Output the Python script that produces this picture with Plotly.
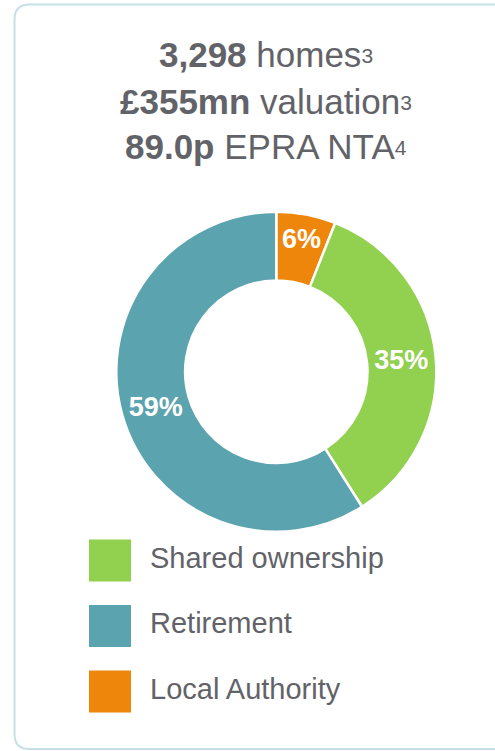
import plotly.graph_objects as go

W, H = 495, 751

# ---- data ----
categories = ["Local Authority", "Shared ownership", "Retirement"]
shares = [6, 35, 59]
slice_colors = ["#EE860B", "#92D050", "#5BA3AE"]

legend_labels = ["Shared ownership", "Retirement", "Local Authority"]
legend_colors = ["#92D050", "#5BA3AE", "#EE860B"]
legend_rows = [0, -1, -2]

headline_values = ["3,298", "£355mn", "89.0p"]
headline_labels = ["homes", "valuation", "EPRA NTA"]
headline_notes = ["3", "3", "4"]


def px_x(x):
    return x / W


def px_y(y):
    return (H - y) / H


fig = go.Figure()

fig.add_trace(go.Pie(
    labels=categories,
    values=shares,
    sort=False,
    direction="clockwise",
    rotation=0,
    hole=0.57,
    marker=dict(colors=slice_colors, line=dict(color="white", width=2.5)),
    textinfo="percent",
    texttemplate="%{percent:.0%}",
    textposition="inside",
    insidetextorientation="horizontal",
    textfont=dict(family="Liberation Sans, Arial, sans-serif", size=27, color="white", weight="bold"),
    domain=dict(x=[px_x(116.3), px_x(436.3)], y=[px_y(531.7), px_y(211.7)]),
    showlegend=False,
    hoverinfo="label+percent",
))

# legend built as scatter on hidden axes
fig.add_trace(go.Scatter(
    x=[0] * len(legend_labels), y=legend_rows,
    mode="markers",
    marker=dict(symbol="square", size=42, color=legend_colors, line=dict(width=0)),
    showlegend=False, hoverinfo="skip",
    xaxis="x", yaxis="y",
))
fig.add_trace(go.Scatter(
    x=[1] * len(legend_labels), y=legend_rows,
    mode="text",
    text=legend_labels,
    textposition="middle right",
    textfont=dict(family="Liberation Sans, Arial, sans-serif", size=29, color="#626368"),
    showlegend=False, hoverinfo="skip",
    xaxis="x", yaxis="y",
))

# headline lines (one annotation per line to control line spacing)
line_centres_px = [55, 101, 146.5]
for v, l, n, yc in zip(headline_values, headline_labels, headline_notes, line_centres_px):
    txt = (
        f"<b>{v}</b> {l}"
        f"<span style='font-size:10px'><sup><span style='font-size:21px'>{n}</span></sup></span>"
    )
    fig.add_annotation(
        text=txt,
        x=px_x(266), y=px_y(yc), xref="paper", yref="paper",
        xanchor="center", yanchor="middle", showarrow=False, align="center",
        font=dict(family="Liberation Sans, Arial, sans-serif", size=35, color="#626368"),
    )

# rounded panel border
L, T, R, B, rad = 14.5, 4.5, 530, 749, 15


def P(x, y):
    return f"{px_x(x):.5f},{px_y(y):.5f}"


path = (
    f"M {P(L + rad, T)} L {P(R, T)} L {P(R, B)} L {P(L + rad, B)} "
    f"Q {P(L, B)} {P(L, B - rad)} L {P(L, T + rad)} Q {P(L, T)} {P(L + rad, T)} Z"
)
fig.add_shape(type="path", path=path, xref="paper", yref="paper",
              line=dict(color="#C6E1E6", width=2), fillcolor="rgba(0,0,0,0)", layer="below")

fig.update_layout(
    width=W, height=H,
    margin=dict(l=0, r=0, t=0, b=0),
    paper_bgcolor="white", plot_bgcolor="rgba(0,0,0,0)",
    xaxis=dict(domain=[px_x(70), px_x(470)], range=[-1, 9], visible=False, fixedrange=True),
    yaxis=dict(domain=[px_y(724.25), px_y(527.75)], range=[-2.5, 0.5], visible=False, fixedrange=True),
    showlegend=False,
)

fig.write_html(
    "out.html",
    config={"displayModeBar": False},
    post_script="document.body.style.margin='0';document.body.style.overflow='hidden';",
)
